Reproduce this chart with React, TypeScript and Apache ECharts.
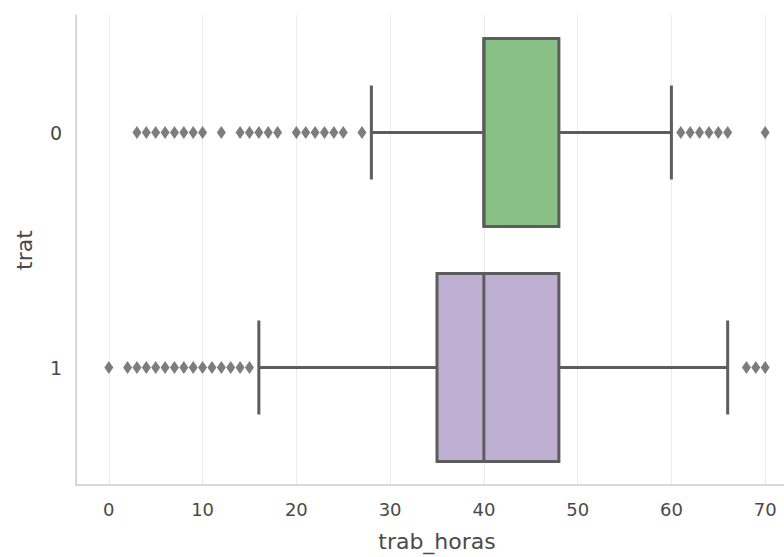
import React, { useEffect, useRef } from "react";
import * as echarts from "echarts";

const categories = ["0", "1"];
const whiskerLow = [28, 16];
const q1 = [40, 35];
const median = [40, 40];
const q3 = [48, 48];
const whiskerHigh = [60, 66];
const boxColors = ["#88c086", "#bfb0d3"];
const outliers0 = [3, 4, 5, 6, 7, 8, 9, 10, 12, 14, 15, 16, 17, 18, 20, 21, 22, 23, 24, 25, 27, 61, 62, 63, 64, 65, 66, 70];
const outliers1 = [0, 2, 3, 4, 5, 6, 7, 8, 9, 10, 11, 12, 13, 14, 15, 68, 69, 70];
const xName = "trab_horas";
const yName = "trat";

const LINE = "#5d5d5d";
const TEXT = "#4a4a4a";
const FONT = "DejaVu Sans";

export default function App() {
  const ref = useRef<HTMLDivElement>(null);
  useEffect(() => {
    const chart = echarts.init(ref.current!, null, { renderer: "svg" });
    const boxData = categories.map((_, i) => [i, whiskerLow[i], q1[i], median[i], q3[i], whiskerHigh[i]]);
    const outlierData = [
      ...outliers0.map((v) => [v, 0]),
      ...outliers1.map((v) => [v, 1]),
    ];
    chart.setOption({
      animation: false,
      backgroundColor: "#ffffff",
      grid: { left: 76, top: 15, bottom: 70, right: 0 },
      xAxis: {
        type: "value",
        min: -3.5,
        max: 73.5,
        splitNumber: 8,
        name: xName,
        nameLocation: "middle",
        nameGap: 45,
        nameTextStyle: { fontFamily: FONT, fontSize: 22, color: TEXT },
        axisLine: { show: true, onZero: false, lineStyle: { color: "#cccccc", width: 1.5 } },
        axisTick: { show: false },
        axisLabel: {
          showMinLabel: false,
          showMaxLabel: false,
          fontFamily: FONT,
          fontSize: 18,
          color: TEXT,
          margin: 15,
        },
        splitLine: { show: true, lineStyle: { color: "#ebebeb", width: 1 } },
      },
      yAxis: {
        type: "category",
        data: categories,
        inverse: true,
        boundaryGap: true,
        name: yName,
        nameLocation: "middle",
        nameGap: 41,
        nameTextStyle: { fontFamily: FONT, fontSize: 22, color: TEXT },
        axisLine: { show: true, onZero: false, lineStyle: { color: "#cccccc", width: 1.5 } },
        axisTick: { show: false },
        axisLabel: { fontFamily: FONT, fontSize: 19, color: TEXT, margin: 14 },
        splitLine: { show: false },
      },
      series: [
        {
          type: "custom",
          data: boxData,
          encode: { x: [1, 2, 3, 4, 5], y: 0 },
          renderItem: (params: any, api: any) => {
            const cat = api.value(0);
            const lo = api.coord([api.value(1), cat]);
            const a = api.coord([api.value(2), cat]);
            const m = api.coord([api.value(3), cat]);
            const b = api.coord([api.value(4), cat]);
            const hi = api.coord([api.value(5), cat]);
            const bandH = api.size([0, 1])[1];
            const h = bandH * 0.8;
            const cy = lo[1];
            const ls = { stroke: LINE, lineWidth: 3 };
            return {
              type: "group",
              children: [
                { type: "line", shape: { x1: lo[0], y1: cy, x2: a[0], y2: cy }, style: ls },
                { type: "line", shape: { x1: b[0], y1: cy, x2: hi[0], y2: cy }, style: ls },
                { type: "line", shape: { x1: lo[0], y1: cy - h / 4, x2: lo[0], y2: cy + h / 4 }, style: ls },
                { type: "line", shape: { x1: hi[0], y1: cy - h / 4, x2: hi[0], y2: cy + h / 4 }, style: ls },
                {
                  type: "rect",
                  shape: { x: a[0], y: cy - h / 2, width: b[0] - a[0], height: h },
                  style: { fill: boxColors[cat], stroke: LINE, lineWidth: 3 },
                },
                { type: "line", shape: { x1: m[0], y1: cy - h / 2, x2: m[0], y2: cy + h / 2 }, style: ls },
              ],
            };
          },
          z: 2,
        },
        {
          type: "scatter",
          data: outlierData,
          symbol: "diamond",
          symbolSize: [9, 13],
          itemStyle: { color: LINE },
          z: 3,
        },
      ],
    });
    return () => chart.dispose();
  }, []);
  return (
    <div
      ref={ref}
      style={{ position: "fixed", left: 0, top: 0, width: 798, height: 557 }}
    />
  );
}
